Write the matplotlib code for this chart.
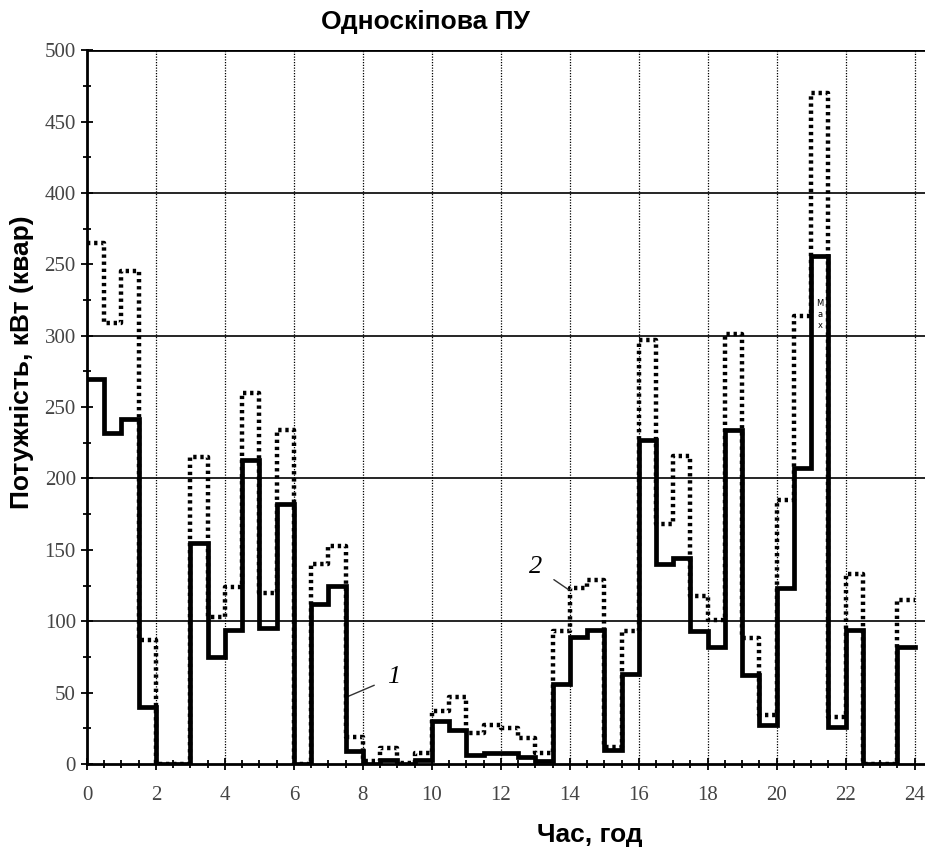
import numpy as np
import matplotlib
matplotlib.use("Agg")
import matplotlib.pyplot as plt
from matplotlib import font_manager
from matplotlib.ticker import MultipleLocator

# --- data (half-hour intervals) ---
hours = [i * 0.5 for i in range(49)]  # interval edges 0..24
active = [270, 232, 242, 40, 0, 0, 155, 75, 94, 213, 95, 182,
          0, 112, 125, 9, 0, 3, 0, 3, 30, 24, 6, 8,
          8, 5, 2, 56, 89, 94, 10, 63, 227, 140, 144, 93,
          82, 234, 62, 27, 123, 207, 356, 26, 94, 0, 0, 82]
reactive = [365, 309, 345, 87, 0, 0, 215, 103, 124, 260, 120, 234,
            0, 140, 153, 19, 2, 11, 1, 8, 37, 47, 22, 27,
            25, 18, 8, 93, 123, 129, 12, 93, 297, 168, 216, 118,
            101, 301, 88, 34, 185, 314, 470, 33, 133, 0, 0, 115]
x_ticks = [0, 2, 4, 6, 8, 10, 12, 14, 16, 18, 20, 22, 24]
y_ticks = [0, 50, 100, 150, 200, 250, 300, 350, 400, 450, 500]
y_tick_labels = ["0", "50", "100", "150", "200", "250", "300", "250", "400", "450", "500"]

title = "Односкіпова ПУ"
xlabel = "Час, год"
ylabel = "Потужність, кВт (квар)"

names = {f.name for f in font_manager.fontManager.ttflist}
sans = "Liberation Sans Narrow" if "Liberation Sans Narrow" in names else "Liberation Sans"

fig = plt.figure(figsize=(9.25, 8.61), dpi=100)
ax = fig.add_axes([0.094, 0.1127, 0.906, 0.829])

a_vals = active + [active[-1]]
r_vals = reactive + [reactive[-1]]
ax.step(hours, r_vals, where="post", color="black", lw=3.2,
        linestyle=(0, (0.75, 0.85)), zorder=3)
ax.step(hours, a_vals, where="post", color="black", lw=3.4, zorder=4,
        solid_joinstyle="miter")

ax.set_xlim(0, 24.3)
ax.set_ylim(0, 500)

# grid
for yv in [100, 200, 300, 400]:
    ax.axhline(yv, color="black", lw=1.2, zorder=1)
ax.axhline(500, color="black", lw=2.0, zorder=1)
for xv in x_ticks[1:]:
    ax.axvline(xv, color="black", lw=0.9, linestyle=(0, (1, 1.2)), zorder=1)

ax.set_xticks(x_ticks)
ax.set_xticklabels([str(t) for t in x_ticks])
ax.set_yticks(y_ticks)
ax.set_yticklabels(y_tick_labels)
ax.xaxis.set_minor_locator(MultipleLocator(0.5))
ax.yaxis.set_minor_locator(MultipleLocator(25))
ax.tick_params(which="both", direction="inout", color="black", width=1.3)
ax.tick_params(which="major", length=8)
ax.tick_params(which="minor", length=6)
ax.tick_params(axis="x", pad=12)
ax.tick_params(axis="y", pad=4)
for lab in ax.get_xticklabels() + ax.get_yticklabels():
    lab.set_fontfamily("Liberation Serif")
    lab.set_fontsize(15)
    lab.set_color("#444444")

for s in ["top", "right"]:
    ax.spines[s].set_visible(False)
ax.spines["left"].set_linewidth(2.0)
ax.spines["bottom"].set_linewidth(2.0)

# annotations
ax.annotate("1", xy=(7.54, 47), xytext=(8.9, 61), fontsize=19,
            family="Liberation Serif", style="italic", ha="center", va="center",
            arrowprops=dict(arrowstyle="-", lw=1.0, color="#333333", shrinkB=0, shrinkA=8))
ax.annotate("2", xy=(13.97, 122), xytext=(13.0, 138), fontsize=19,
            family="Liberation Serif", style="italic", ha="center", va="center",
            arrowprops=dict(arrowstyle="-", lw=1.0, color="#333333", shrinkB=0, shrinkA=8))
ax.text(21.25, 315, "М\nа\nх", fontsize=6, ha="center", va="center",
        family="DejaVu Sans", linespacing=1.3, zorder=5)

fig.text(425 / 925, 1 - 22 / 861, title, fontsize=19, fontweight="bold",
         family=sans, ha="center", va="center")
fig.text(590 / 925, 1 - 835 / 861, xlabel, fontsize=19, fontweight="bold",
         family=sans, ha="center", va="center")
fig.text(22 / 925, 1 - 362 / 861, ylabel, fontsize=19, fontweight="bold",
         family=sans, ha="center", va="center", rotation=90)

fig.savefig("out.png", dpi=100)
